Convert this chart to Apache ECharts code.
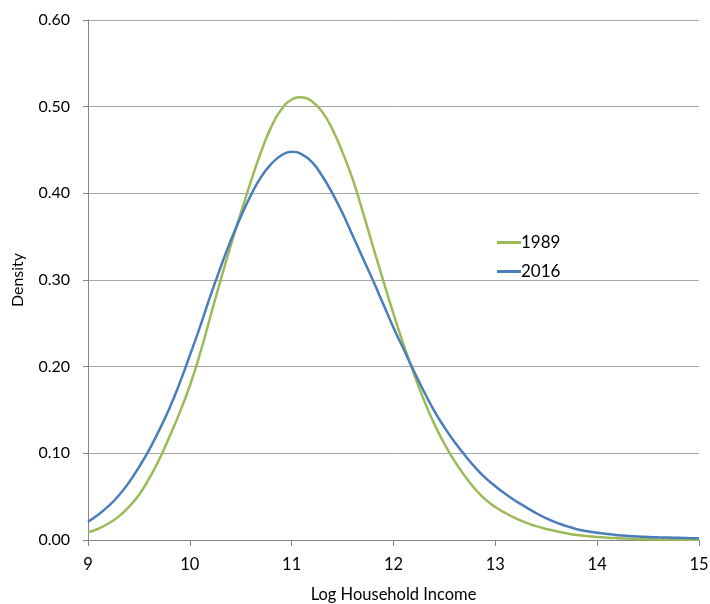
<!DOCTYPE html>
<html>
<head>
<meta charset="utf-8">
<script src="https://cdn.jsdelivr.net/npm/echarts@6/dist/echarts.min.js"></script>
<style>html,body{margin:0;padding:0;background:#fff}#c{width:710px;height:604px}</style>
</head>
<body>
<div id="c"></div>
<script>
const xValues = [9.0, 9.1, 9.2, 9.3, 9.4, 9.5, 9.6, 9.7, 9.8, 9.9,
  10.0, 10.1, 10.2, 10.3, 10.4, 10.5, 10.6, 10.7, 10.8, 10.9,
  11.0, 11.1, 11.2, 11.3, 11.4, 11.5, 11.6, 11.7, 11.8, 11.9,
  12.0, 12.1, 12.2, 12.3, 12.4, 12.5, 12.6, 12.7, 12.8, 12.9,
  13.0, 13.1, 13.2, 13.3, 13.4, 13.5, 13.6, 13.7, 13.8, 13.9,
  14.0, 14.1, 14.2, 14.3, 14.4, 14.5, 14.6, 14.7, 14.8, 14.9, 15.0];
const density1989 = [0.009, 0.013, 0.019, 0.027, 0.038, 0.052, 0.071, 0.093, 0.119, 0.147,
  0.178, 0.215, 0.257, 0.299, 0.339, 0.377, 0.414, 0.448, 0.477, 0.497,
  0.508, 0.511, 0.506, 0.494, 0.474, 0.447, 0.416, 0.378, 0.338, 0.299,
  0.261, 0.225, 0.192, 0.161, 0.134, 0.111, 0.091, 0.074, 0.059, 0.047,
  0.038, 0.031, 0.025, 0.020, 0.016, 0.0128, 0.010, 0.0077, 0.0058, 0.0045,
  0.0035, 0.0027, 0.0021, 0.0016, 0.0012, 0.0009, 0.0007, 0.0005, 0.0004, 0.0003, 0.0003];
const density2016 = [0.021, 0.029, 0.039, 0.051, 0.066, 0.084, 0.104, 0.127, 0.152, 0.181,
  0.213, 0.246, 0.281, 0.314, 0.345, 0.373, 0.398, 0.419, 0.434, 0.444,
  0.448, 0.445, 0.436, 0.420, 0.400, 0.377, 0.351, 0.325, 0.299, 0.272,
  0.245, 0.220, 0.195, 0.171, 0.149, 0.130, 0.113, 0.098, 0.084, 0.072,
  0.062, 0.053, 0.045, 0.038, 0.031, 0.025, 0.020, 0.016, 0.0125, 0.010,
  0.0083, 0.0068, 0.0056, 0.0047, 0.0040, 0.0035, 0.0031, 0.0028, 0.0025, 0.0022, 0.0020];
const seriesNames = ['1989', '2016'];
const yTicks = [0, 0.1, 0.2, 0.3, 0.4, 0.5, 0.6];

const font = 'Lato, "Open Sans", sans-serif';
const chart = echarts.init(document.getElementById('c'));
const pair = arr => xValues.map((x, i) => [x, arr[i]]);
chart.setOption({
  animation: false,
  backgroundColor: '#fff',
  grid: { left: 88, right: 11, top: 20, bottom: 64, containLabel: false, outerBoundsMode: 'none' },
  legend: {
    orient: 'vertical', left: 492, top: 229, itemGap: 12,
    icon: 'rect', itemWidth: 24, itemHeight: 3,
    textStyle: { fontFamily: font, fontSize: 17, color: '#000', padding: [0, 0, 0, -5] },
    data: seriesNames
  },
  xAxis: {
    type: 'value', min: 9, max: 15, interval: 1,
    name: 'Log Household Income', nameLocation: 'middle', nameGap: 46,
    nameTextStyle: { fontFamily: font, fontSize: 16.5, color: '#000' },
    axisLine: { show: true, lineStyle: { color: '#868686', width: 1 } },
    axisTick: { show: true, length: 6, lineStyle: { color: '#868686' } },
    axisLabel: { fontFamily: font, fontSize: 16.5, color: '#000', margin: 16 },
    splitLine: { show: false }
  },
  yAxis: {
    type: 'value', min: yTicks[0], max: yTicks[yTicks.length - 1], interval: 0.1,
    name: 'Density', nameLocation: 'middle', nameGap: 62,
    nameTextStyle: { fontFamily: font, fontSize: 16, color: '#000' },
    axisLine: { show: true, lineStyle: { color: '#868686', width: 1 } },
    axisTick: { show: true, length: 5, lineStyle: { color: '#868686' } },
    axisLabel: { fontFamily: font, fontSize: 16, color: '#000', margin: 18, formatter: v => v.toFixed(2) },
    splitLine: { show: true, lineStyle: { color: '#a6a6a6', width: 1 } }
  },
  series: [
    { name: seriesNames[0], type: 'line', smooth: 0.5, showSymbol: false, data: pair(density1989),
      lineStyle: { color: '#9bbb59', width: 2.5 }, itemStyle: { color: '#9bbb59' } },
    { name: seriesNames[1], type: 'line', smooth: 0.5, showSymbol: false, data: pair(density2016),
      lineStyle: { color: '#4a7ebb', width: 2.5 }, itemStyle: { color: '#4a7ebb' } }
  ]
});
</script>
</body>
</html>
